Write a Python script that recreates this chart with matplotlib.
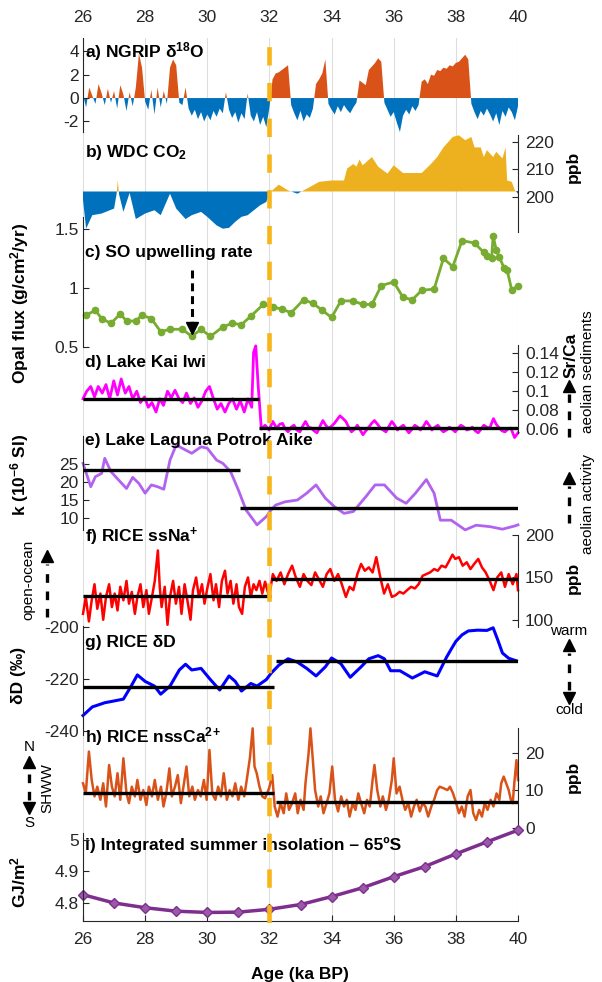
import numpy as np
import matplotlib
matplotlib.use("Agg")
import matplotlib.pyplot as plt

plt.rcParams["font.family"] = ["Liberation Sans", "DejaVu Sans"]
plt.rcParams["mathtext.fontset"] = "custom"
plt.rcParams["mathtext.rm"] = "Liberation Sans"
plt.rcParams["mathtext.bf"] = "Liberation Sans:bold"
plt.rcParams["mathtext.default"] = "bf"

# --------------------------- data ---------------------------

AGE_MIN, AGE_MAX = 26, 40
age_ticks = [26, 28, 30, 32, 34, 36, 38, 40]
event_age = 32

# a) NGRIP d18O anomaly, sampled every 0.1 ka from 26 ka
ngrip_start, ngrip_step = 26.0, 0.1
ngrip_val = [
    0.3, -0.8, 0.9, 0.2, -0.5, 1.2, 0.4, -0.6, 0.8, -0.4,
    0.6, -0.9, 1.1, 0.3, -1.1, 0.5, -0.7, 0.9, 3.8, 2.6,
    -0.3, -1.0, 0.7, -1.4, 0.9, -0.8, 0.6, -0.5, 2.6, 3.3,
    2.8, -0.4, -0.6, 0.9, -0.9, -1.5, -1.0, -1.8, -1.2, -2.0,
    -1.4, -1.9, -1.1, -1.6, -0.9, -1.3, 0.5, -1.0, -1.7, -1.2,
    -2.1, -1.3, -1.8, 0.4, -1.5, -2.0, -1.2, -2.3, -1.6, -2.5,
    -0.8, 1.6, 2.1, 2.2, 2.4, 2.6, 2.8, -0.6, -1.3, -1.9,
    -1.1, -2.0, -1.4, -1.7, -0.9, 1.2, 1.6, 2.1, 3.3, -0.5,
    -1.0, -1.4, -0.7, -1.2, -0.6, -1.0, -1.3, -0.8, -0.4, 1.5,
    1.3, 1.1, 2.4, 2.7, 3.0, 3.4, 3.1, -0.4, -1.0, -1.6,
    -1.2, -2.1, -2.9, -1.5, -1.0, -1.4, -0.7, -1.1, -0.6, 1.4,
    1.6, 1.2, 2.0, 1.9, 2.4, 2.3, 2.6, 2.5, 2.8, 2.7,
    3.0, 3.1, 3.4, 3.7, 3.3, -0.5, -1.2, -1.8, -1.1, -1.5,
    -0.9, -1.4, -2.0, -1.3, -2.3, -1.1, -1.6, -0.8, -1.2, -1.9,
    -0.7,
]

# b) WDC CO2 (axis labelled ppb in the figure)
co2_base = 202.0
co2 = [(26.0, 199.0), (26.1, 188.5), (26.3, 193.4), (26.6, 194.0), (27.0, 195.8),
       (27.08, 201.0), (27.12, 206.0), (27.16, 201.0), (27.3, 194.6), (27.5, 201.5),
       (27.7, 192.0), (28.0, 194.0), (28.3, 195.2), (28.5, 193.4), (28.8, 201.2),
       (29.0, 195.8), (29.3, 192.0), (29.5, 193.4), (29.8, 194.6), (30.0, 192.8),
       (30.3, 189.7), (30.5, 188.5), (30.7, 188.8), (30.9, 191.0), (31.1, 192.8),
       (31.3, 193.4), (31.5, 195.2), (31.7, 197.0), (31.9, 198.2), (32.0, 201.5),
       (32.3, 204.5), (32.6, 202.4), (32.9, 201.2), (33.2, 203.0), (33.6, 205.5),
       (34.0, 206.0), (34.4, 206.0), (34.5, 210.3), (34.7, 212.0), (34.8, 211.0),
       (34.9, 213.6), (35.0, 211.5), (35.3, 214.5), (35.5, 211.0), (35.8, 208.5),
       (36.0, 211.5), (36.3, 208.7), (36.6, 208.7), (36.9, 208.7), (37.2, 212.0),
       (37.4, 214.5), (37.6, 218.0), (37.9, 221.8), (38.1, 222.4), (38.3, 220.6),
       (38.5, 221.8), (38.6, 218.0), (38.8, 218.0), (38.9, 214.5), (39.0, 217.0),
       (39.2, 214.5), (39.3, 216.4), (39.5, 214.0), (39.6, 218.0), (39.65, 206.0),
       (39.8, 205.5), (39.9, 202.4), (40.0, 201.2)]

# c) SO upwelling rate, opal flux
opal = [(26.1, 0.77), (26.4, 0.81), (26.6, 0.74), (26.9, 0.70), (27.2, 0.78),
        (27.4, 0.72), (27.7, 0.72), (27.9, 0.77), (28.2, 0.74), (28.5, 0.63),
        (28.8, 0.65), (29.2, 0.65), (29.5, 0.59), (29.8, 0.65), (30.1, 0.59),
        (30.5, 0.67), (30.8, 0.70), (31.1, 0.69), (31.4, 0.76), (31.8, 0.86),
        (32.1, 0.84), (32.4, 0.82), (32.7, 0.79), (33.1, 0.90), (33.4, 0.87),
        (33.7, 0.81), (34.0, 0.75), (34.3, 0.89), (34.7, 0.89), (35.0, 0.86),
        (35.3, 0.86), (35.6, 1.02), (36.0, 1.05), (36.3, 0.92), (36.6, 0.90),
        (36.9, 0.98), (37.3, 0.99), (37.6, 1.25), (37.9, 1.18), (38.2, 1.40),
        (38.6, 1.38), (38.9, 1.30), (39.0, 1.27), (39.15, 1.25), (39.2, 1.44),
        (39.3, 1.32), (39.4, 1.26), (39.55, 1.17), (39.65, 1.15), (39.8, 0.98),
        (40.0, 1.02)]

# d) Lake Kai Iwi Sr/Ca
srca = [(26.0, 0.092), (26.12, 0.100), (26.25, 0.105), (26.37, 0.094), (26.49, 0.105),
        (26.62, 0.098), (26.74, 0.107), (26.86, 0.092), (26.99, 0.111), (27.11, 0.096),
        (27.23, 0.113), (27.36, 0.098), (27.48, 0.105), (27.6, 0.092), (27.73, 0.100),
        (27.85, 0.088), (27.98, 0.094), (28.1, 0.083), (28.22, 0.088), (28.35, 0.078),
        (28.47, 0.092), (28.59, 0.085), (28.72, 0.100), (28.84, 0.093), (28.96, 0.101),
        (29.09, 0.092), (29.21, 0.088), (29.33, 0.098), (29.46, 0.087), (29.58, 0.093),
        (29.7, 0.083), (29.83, 0.090), (29.95, 0.100), (30.07, 0.105), (30.2, 0.092),
        (30.32, 0.081), (30.44, 0.087), (30.57, 0.078), (30.69, 0.087), (30.81, 0.092),
        (30.94, 0.081), (31.06, 0.090), (31.19, 0.078), (31.31, 0.092), (31.43, 0.083),
        (31.49, 0.141), (31.56, 0.148), (31.64, 0.105), (31.74, 0.060), (31.86, 0.064),
        (31.99, 0.059), (32.11, 0.068), (32.23, 0.061), (32.33, 0.065), (32.42, 0.066),
        (32.51, 0.060), (32.6, 0.057), (32.7, 0.062), (32.79, 0.064), (32.88, 0.059),
        (32.98, 0.057), (33.07, 0.063), (33.16, 0.068), (33.26, 0.062), (33.35, 0.061),
        (33.44, 0.058), (33.53, 0.056), (33.63, 0.063), (33.72, 0.069), (33.81, 0.064),
        (33.9, 0.061), (34.0, 0.063), (34.09, 0.066), (34.18, 0.070), (34.27, 0.074),
        (34.37, 0.071), (34.46, 0.068), (34.55, 0.062), (34.64, 0.057), (34.74, 0.060),
        (34.83, 0.064), (34.92, 0.059), (35.01, 0.054), (35.1, 0.058), (35.2, 0.062),
        (35.29, 0.066), (35.38, 0.069), (35.48, 0.065), (35.57, 0.061), (35.66, 0.059),
        (35.75, 0.057), (35.85, 0.063), (35.94, 0.068), (36.03, 0.064), (36.12, 0.059),
        (36.22, 0.062), (36.31, 0.064), (36.4, 0.060), (36.49, 0.056), (36.59, 0.060),
        (36.68, 0.064), (36.77, 0.062), (36.86, 0.059), (36.96, 0.063), (37.05, 0.068),
        (37.14, 0.064), (37.23, 0.059), (37.33, 0.062), (37.42, 0.064), (37.51, 0.060),
        (37.6, 0.057), (37.7, 0.059), (37.79, 0.062), (37.88, 0.060), (37.98, 0.057),
        (38.07, 0.061), (38.16, 0.064), (38.26, 0.062), (38.35, 0.059), (38.44, 0.060),
        (38.53, 0.062), (38.63, 0.058), (38.72, 0.056), (38.81, 0.060), (38.9, 0.064),
        (39.0, 0.062), (39.09, 0.061), (39.21, 0.071), (39.3, 0.065), (39.4, 0.061),
        (39.49, 0.058), (39.58, 0.057), (39.68, 0.060), (39.77, 0.061), (39.89, 0.051),
        (40.0, 0.056)]
srca_means = [(26.0, 31.68, 0.0915), (31.68, 40.0, 0.061)]

# e) Laguna Potrok Aike magnetic susceptibility
kappa = [(26.0, 25.2), (26.25, 18.7), (26.4, 21.5), (26.6, 22.4), (26.7, 26.6),
         (26.9, 22.9), (27.1, 21.0), (27.4, 18.2), (27.6, 21.3), (27.8, 19.6),
         (28.0, 16.9), (28.2, 19.2), (28.4, 18.7), (28.6, 18.0), (28.8, 26.1),
         (29.0, 30.3), (29.3, 28.9), (29.5, 28.0), (29.8, 29.8), (30.0, 29.4),
         (30.3, 26.1), (30.5, 25.2), (30.75, 22.9), (31.0, 17.8), (31.25, 12.2),
         (31.6, 8.1), (31.9, 10.4), (32.05, 12.2), (32.2, 13.6), (32.5, 14.5),
         (32.9, 15.0), (33.2, 16.9), (33.5, 19.2), (33.8, 15.5), (34.1, 13.1),
         (34.4, 11.3), (34.7, 11.8), (35.1, 15.9), (35.4, 19.2), (35.7, 19.2),
         (36.1, 15.5), (36.4, 14.1), (36.7, 16.9), (37.05, 20.7), (37.3, 16.9),
         (37.5, 9.4), (37.85, 9.4), (38.3, 6.7), (38.65, 8.0), (39.1, 7.6),
         (39.5, 6.9), (39.9, 7.8), (40.0, 8.1)]
kappa_means = [(26.0, 31.06, 23.4), (31.06, 40.0, 12.8)]

# f) RICE ssNa+
ssna_age = [26.0, 26.09, 26.19, 26.28, 26.37, 26.46, 26.56, 26.65, 26.74, 26.84,
            26.93, 27.02, 27.11, 27.2, 27.3, 27.4, 27.48, 27.57, 27.67, 27.75,
            27.85, 27.94, 28.04, 28.12, 28.22, 28.31, 28.41, 28.47, 28.53, 28.63,
            28.72, 28.8, 28.9, 28.99, 29.09, 29.17, 29.27, 29.36, 29.46, 29.54,
            29.64, 29.73, 29.83, 29.91, 30.01, 30.1, 30.2, 30.28, 30.38, 30.47,
            30.57, 30.65, 30.75, 30.84, 30.94, 31.02, 31.12, 31.21, 31.31, 31.4,
            31.49, 31.58, 31.68, 31.77, 31.86, 31.99,
            32.11, 32.23, 32.36, 32.48, 32.6, 32.73, 32.85, 32.98,
            33.1, 33.22, 33.35, 33.47, 33.59, 33.72, 33.84, 33.96,
            34.09, 34.21, 34.33, 34.46, 34.58, 34.7, 34.83, 34.95,
            35.07, 35.2, 35.32, 35.44, 35.57, 35.69, 35.81, 35.94,
            36.06, 36.19, 36.31, 36.43, 36.56, 36.68, 36.8, 36.93,
            37.05, 37.17, 37.3, 37.42, 37.54, 37.67, 37.79, 37.89,
            37.98, 38.1, 38.22, 38.35, 38.47, 38.59, 38.72, 38.84,
            38.96, 39.09, 39.21, 39.33, 39.46, 39.58, 39.7, 39.83,
            39.95, 40.0]
ssna_val = [107, 127, 98, 123, 142, 113, 131, 100, 127, 142,
            115, 131, 111, 139, 123, 146, 119, 133, 107, 127,
            142, 115, 135, 107, 127, 146, 182, 139, 115, 139,
            94, 127, 146, 119, 139, 107, 142, 123, 100, 135,
            150, 127, 142, 119, 139, 154, 123, 142, 115, 146,
            158, 131, 146, 119, 142, 115, 107, 139, 150, 127,
            142, 135, 146, 131, 145, 127,
            154, 146, 156, 142, 154, 164, 150, 139,
            154, 146, 141, 156, 148, 139, 154, 160,
            146, 154, 142, 127, 139, 135, 154, 166,
            158, 162, 156, 174, 150, 131, 142, 127,
            129, 133, 131, 135, 139, 137, 142, 152,
            154, 156, 160, 158, 164, 162, 170, 177,
            172, 174, 164, 168, 160, 166, 172, 162,
            156, 146, 135, 150, 156, 139, 154, 142,
            154, 135]
ssna_means = [(26.0, 32.05, 127.7), (32.05, 40.0, 147.7)]

# g) RICE dD
dd = [(26.0, -234.0), (26.3, -230.7), (26.7, -229.1), (27.05, -228.3), (27.3, -227.7),
      (27.55, -222.7), (27.75, -218.4), (28.0, -220.9), (28.3, -222.7), (28.5, -225.8),
      (28.8, -222.7), (29.1, -216.5), (29.3, -214.3), (29.5, -216.5), (29.8, -215.9),
      (30.1, -220.2), (30.4, -224.2), (30.7, -218.8), (30.9, -220.9), (31.1, -224.6),
      (31.4, -221.7), (31.6, -222.7), (31.9, -220.2), (32.05, -217.8), (32.3, -214.7),
      (32.6, -212.2), (32.9, -213.5), (33.2, -215.9), (33.5, -218.8), (33.8, -215.3),
      (34.0, -211.9), (34.3, -214.1), (34.6, -219.3), (34.95, -215.3), (35.2, -212.2),
      (35.5, -211.0), (35.7, -212.2), (35.9, -216.8), (36.2, -216.8), (36.6, -219.6),
      (37.0, -217.2), (37.4, -218.8), (37.7, -211.6), (37.85, -208.5), (38.0, -205.5),
      (38.2, -203.0), (38.4, -201.5), (38.7, -201.2), (39.0, -201.3), (39.2, -200.3),
      (39.35, -205.0), (39.5, -210.0), (39.7, -212.0), (39.95, -213.0)]
dd_means = [(26.0, 32.15, -223.0), (32.2, 40.0, -213.1)]

# h) RICE nssCa2+
nssca_age = [26.0, 26.09, 26.19, 26.28, 26.37, 26.46, 26.56, 26.65, 26.74, 26.84,
             26.93, 27.02, 27.11, 27.2, 27.3, 27.4, 27.48, 27.57, 27.67, 27.75,
             27.85, 27.94, 28.04, 28.12, 28.22, 28.31, 28.41, 28.51, 28.59, 28.68,
             28.78, 28.86, 28.96, 29.05, 29.15, 29.25, 29.33, 29.42, 29.52, 29.6,
             29.7, 29.79, 29.89, 29.98, 30.07, 30.16, 30.26, 30.35, 30.44, 30.53,
             30.63, 30.72, 30.81, 30.9, 31.0, 31.09, 31.19, 31.27, 31.37, 31.46,
             31.52, 31.59, 31.68, 31.77, 31.86, 31.99, 32.09, 32.17,
             32.26, 32.36, 32.46, 32.54, 32.63, 32.73, 32.83, 32.91, 33.0, 33.1,
             33.16, 33.26, 33.32, 33.38, 33.47, 33.57, 33.65, 33.74, 33.84, 33.93,
             34.02, 34.11, 34.21, 34.31, 34.4, 34.49, 34.58, 34.68, 34.77, 34.86,
             34.95, 35.05, 35.14, 35.23, 35.32, 35.38, 35.47, 35.57, 35.65, 35.75,
             35.84, 35.94, 36.0, 36.09, 36.19, 36.28, 36.37, 36.47, 36.56, 36.65,
             36.74, 36.84, 36.93, 37.02, 37.11, 37.21, 37.3, 37.4, 37.48, 37.6,
             37.73, 37.81, 37.91, 38.01, 38.1, 38.19, 38.28, 38.38, 38.47, 38.56,
             38.65, 38.75, 38.84, 38.93, 39.02, 39.12, 39.21, 39.31, 39.4, 39.46,
             39.54, 39.62, 39.7, 39.77, 39.83, 39.89, 39.95, 40.0]
nssca_val = [11.9, 9.2, 20.4, 12.8, 8.4, 11, 7.5, 11.9, 5.7, 16.8,
             11, 8.4, 14.6, 7.5, 18.6, 9.2, 6.6, 11, 8.4, 12.8,
             7.5, 10.1, 6.1, 11, 8.4, 12.8, 7.5, 11, 5.7, 9.2,
             15.9, 8.4, 11, 14.1, 6.6, 11.9, 16.4, 8.4, 11, 7.5,
             10.1, 8.4, 12.8, 7.5, 20.8, 9.2, 7.5, 11, 8.4, 14.6,
             7.5, 10.1, 8.4, 11.9, 7.5, 11, 8.4, 12.8, 18.6, 26.6,
             16.4, 14.6, 11, 8.4, 7.9, 10.6, 14.1, 5.7,
             3, 6.6, 3.9, 9.2, 4.8, 6.6, 9.2, 3.9, 7.5, 4.8,
             11.9, 19.9, 26.6, 19.9, 10.1, 5.7, 8.4, 3.9, 6.6, 9.2,
             16.4, 7.5, 4.4, 8.4, 5.7, 7.5, 3, 6.6, 4.8, 9.2,
             6.6, 3.9, 7.5, 5.7, 12.8, 16.8, 10.1, 5.7, 8.4, 4.8,
             7.5, 12.8, 18.6, 9.2, 11, 7.5, 4.8, 6.6, 3, 5.7,
             7.5, 4.4, 6.6, 5.7, 3, 5.7, 7.5, 10.1, 11, 10.6,
             10.1, 11, 9.2, 6.6, 3.9, 5.7, 3, 8.4, 10.1, 3.9,
             2.1, 4.8, 3, 6.6, 4.8, 7.5, 5.7, 9.2, 7.5, 11.9,
             13.7, 11.9, 10.1, 7.5, 6.6, 12.8, 18.1, 12.8]
nssca_means = [(26.0, 32.15, 9.2), (32.2, 40.0, 6.8)]

# i) integrated summer insolation 65S
ins_age = [26, 27, 28, 29, 30, 31, 32, 33, 34, 35, 36, 37, 38, 39, 40]
ins_val = [4.826, 4.800, 4.785, 4.774, 4.770, 4.771, 4.780, 4.795,
           4.820, 4.848, 4.883, 4.915, 4.955, 4.993, 5.030]

# --------------------------- layout ---------------------------

W, H = 602, 982
X0, X1 = 83, 518
INK = "#262626"
TICK_FS = 12.5
LAB_FS = 12.5
NOTE_FS = 11

fig = plt.figure(figsize=(W / 100, H / 100), dpi=100)


def ftext(x, y, s, **kw):
    kw.setdefault("ha", "center")
    kw.setdefault("va", "center")
    fig.text(x / W, 1 - y / H, s, color="black", **kw)


def panel(top, bottom, z=1):
    ax = fig.add_axes([X0 / W, 1 - bottom / H, (X1 - X0) / W, (bottom - top) / H], zorder=z)
    ax.patch.set_visible(False)
    ax.set_xlim(AGE_MIN, AGE_MAX)
    for s in ax.spines.values():
        s.set_visible(False)
        s.set_color(INK)
        s.set_linewidth(0.8)
    ax.tick_params(direction="in", length=4, width=0.8, colors=INK, labelsize=TICK_FS)
    ax.set_xticks([])
    ax.set_yticks([])
    return ax


def yaxis(ax, side, ticks, labels, ylim):
    ax.set_ylim(*ylim)
    ax.spines[side].set_visible(True)
    ax.set_yticks(ticks, labels)
    if side == "right":
        ax.yaxis.tick_right()
        ax.tick_params(axis="y", pad=5)
    else:
        ax.tick_params(axis="y", pad=3)


def mean_lines(ax, segs):
    for a0, a1, v in segs:
        ax.plot([a0, a1], [v, v], color="black", lw=2.4, solid_capstyle="butt", zorder=4)


# background: grid + top age labels
bg = panel(38, 921, z=0)
bg.set_ylim(0, 1)
bg.set_xticks(age_ticks)
bg.grid(axis="x", color="#dedede", lw=0.8)
bg.tick_params(axis="x", top=True, labeltop=True, bottom=False, labelbottom=False,
               length=0, pad=9)

# a) NGRIP
ax = panel(38, 132)
ng_age = ngrip_start + ngrip_step * np.arange(len(ngrip_val))
ng = np.array(ngrip_val)
ax.fill_between(ng_age, 0, ng, where=ng >= 0, interpolate=True, color="#D95319", lw=0)
ax.fill_between(ng_age, 0, ng, where=ng <= 0, interpolate=True, color="#0072BD", lw=0)
yaxis(ax, "left", [-2, 0, 2, 4], ["-2", "0", "2", "4"], (-2.9, 5.13))

# b) CO2
ax = panel(135, 232)
c_age, c_val = map(np.array, zip(*co2))
ax.fill_between(c_age, co2_base, c_val, where=c_val >= co2_base, interpolate=True,
                color="#EDB120", lw=0)
ax.fill_between(c_age, co2_base, c_val, where=c_val <= co2_base, interpolate=True,
                color="#0072BD", lw=0)
yaxis(ax, "right", [200, 210, 220], ["200", "210", "220"], (187.3, 222.5))

# c) opal flux
ax = panel(217, 347)
o_age, o_val = zip(*opal)
ax.plot(o_age, o_val, color="#77AC30", lw=2, marker="o", ms=4.5, mec="#77AC30", clip_on=False)
ax.plot([29.5, 29.5], [1.15, 0.69], color="black", lw=2.2, linestyle=(0, (2.6, 1.6)))
ax.plot([29.5], [0.665], marker="v", ms=8, color="black", clip_on=False)
yaxis(ax, "left", [0.5, 1, 1.5], ["0.5", "1", "1.5"], (0.5, 1.6))

# d) Sr/Ca
ax = panel(345, 433)
s_age, s_val = zip(*srca)
ax.plot(s_age, s_val, color="#FF00FF", lw=2, clip_on=False)
mean_lines(ax, srca_means)
yaxis(ax, "right", [0.06, 0.08, 0.1, 0.12, 0.14],
      ["0.06", "0.08", "0.1", "0.12", "0.14"], (0.0558, 0.1489))

# e) k
ax = panel(436, 530)
k_age, k_val = zip(*kappa)
ax.plot(k_age, k_val, color="#B163F0", lw=2, clip_on=False)
mean_lines(ax, kappa_means)
yaxis(ax, "left", [10, 15, 20, 25], ["10", "15", "20", "25"], (6.67, 32.8))

# f) ssNa
ax = panel(535, 627)
ax.plot(ssna_age, ssna_val, color="#FF0000", lw=1.8, clip_on=False)
mean_lines(ax, ssna_means)
yaxis(ax, "right", [100, 150, 200], ["100", "150", "200"], (91.4, 200.3))

# g) dD
ax = panel(626, 735)
d_age, d_val = zip(*dd)
ax.plot(d_age, d_val, color="#0000FF", lw=2.2, clip_on=False)
mean_lines(ax, dd_means)
yaxis(ax, "left", [-240, -220, -200], ["-240", "-220", "-200"], (-241.5, -199.6))

# h) nssCa
ax = panel(728, 828)
ax.plot(nssca_age, nssca_val, color="#D95319", lw=1.8, clip_on=False)
mean_lines(ax, nssca_means)
yaxis(ax, "right", [0, 10, 20], ["0", "10", "20"], (-0.05, 26.7))

# i) insolation
ax = panel(833, 921)
ax.plot(ins_age, ins_val, color="#7E2F8E", lw=2.5, marker="D", ms=5.5,
        mfc="#9A5AA8", mec="#7E2F8E", clip_on=False)
yaxis(ax, "left", [4.8, 4.9, 5.0], ["4.8", "4.9", "5"], (4.743, 5.021))
ax.spines["bottom"].set_visible(True)
ax.set_xticks(age_ticks, [str(a) for a in age_ticks])
ax.tick_params(axis="x", pad=8)

# event line on top of everything
top = panel(38, 923, z=10)
top.set_ylim(0, 1)
top.axis("off")
top.axvline(event_age, color="#F7B519", lw=3.3, linestyle=(0, (4, 3.8)))

# --------------------------- text ---------------------------

bold = dict(fontsize=LAB_FS, fontweight="bold")
for y, s in [(52, r"a) NGRIP δ$^{18}$O"), (152, r"b) WDC CO$_2$"),
             (253, "c) SO upwelling rate"), (362, "d) Lake Kai Iwi"),
             (440, "e) Lake Laguna Potrok Aike"), (537, r"f) RICE ssNa$^{+}$"),
             (643, "g) RICE δD"), (737, r"h) RICE nssCa$^{2}$$^{+}$"),
             (845, "i) Integrated summer insolation – 65ºS")]:
    ftext(85, y, s, ha="left", **bold)

ftext(20, 303, r"Opal flux (g/cm$^2$/yr)", rotation=90, **bold)
ftext(20, 475, r"k (10$^{-6}$ SI)", rotation=90, **bold)
ftext(18, 675, "δD (‰)", rotation=90, **bold)
ftext(18, 882, r"GJ/m$^2$", rotation=90, **bold)
ftext(300, 975, "Age (ka BP)", **bold)

for y in (167, 578, 777):
    ftext(573, y, "ppb", rotation=90, **bold)
ftext(571, 355, "Sr/Ca", rotation=90, **bold)
ftext(588, 372, "aeolian sediments", rotation=90, fontsize=NOTE_FS)
ftext(588, 504, "aeolian activity", rotation=90, fontsize=NOTE_FS)
ftext(569, 631, "warm", fontsize=NOTE_FS)
ftext(569, 710, "cold", fontsize=NOTE_FS)
ftext(28, 580, "open-ocean", rotation=90, fontsize=NOTE_FS)
ftext(29, 747, "N", fontsize=NOTE_FS)
ftext(29, 823, "S", fontsize=NOTE_FS)
ftext(47, 788, "SHWW", rotation=90, fontsize=NOTE_FS)

# dashed indicator arrows (figure pixel space)
ov = fig.add_axes([0, 0, 1, 1], zorder=11)
ov.set_xlim(0, W)
ov.set_ylim(H, 0)
ov.axis("off")


def dashed_arrow(x, y_tail, y_tip, both=False):
    d = 1 if y_tip > y_tail else -1
    y0 = y_tail + d * 8 if both else y_tail
    y1 = y_tip - d * 8
    ov.plot([x, x], [y0, y1], color="black", lw=2.4, linestyle=(0, (2.6, 2.6)))
    ov.plot([x], [y_tip], marker="v" if d > 0 else "^", ms=8, color="black")
    if both:
        ov.plot([x], [y_tail], marker="^" if d > 0 else "v", ms=8, color="black")


dashed_arrow(569, 437, 386)
dashed_arrow(569, 523, 478)
dashed_arrow(569, 698, 645, both=True)
dashed_arrow(47, 617, 556)
dashed_arrow(29, 808, 762, both=True)

fig.savefig("out.png", dpi=100)
